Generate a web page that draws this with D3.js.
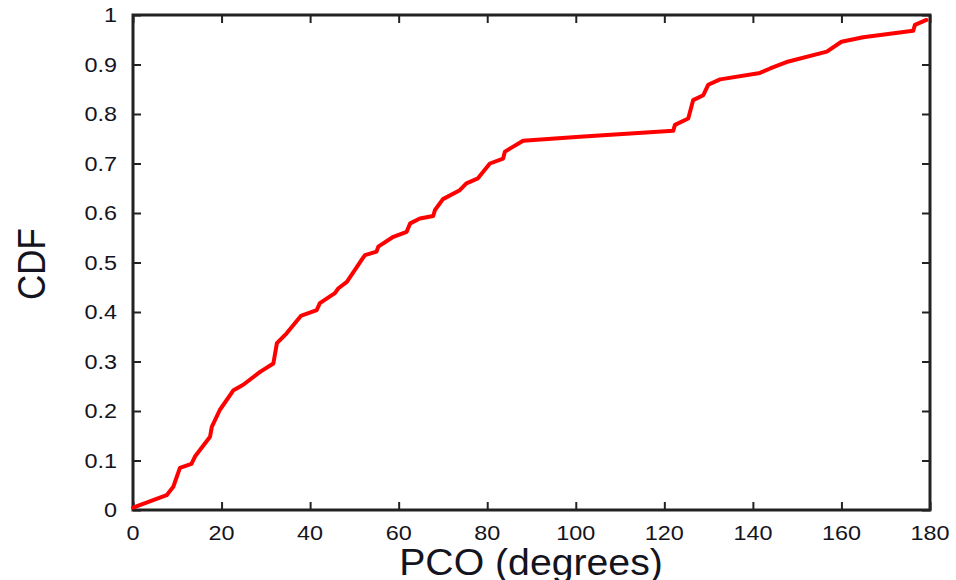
<!DOCTYPE html>
<html>
<head>
<meta charset="utf-8">
<script src="https://cdn.jsdelivr.net/npm/d3@7"></script>
<style>
html,body{margin:0;padding:0;background:#fff;}
svg{display:block;}
text{font-family:"Liberation Sans",Arial,Helvetica,sans-serif;fill:#141420;}
</style>
</head>
<body>
<svg id="chart" width="956" height="580"></svg>
<script>
const pco = [0, 7.6, 9.1, 10.6, 13.2, 14.0, 17.4, 17.8, 19.6, 22.7, 24.9, 28.7, 31.7, 32.5, 34.7, 37.9, 41.5, 42.2, 45.6, 46.4, 48.3, 51.6, 52.4, 55.0, 55.4, 58.8, 61.8, 62.6, 64.8, 67.8, 68.2, 70.0, 73.8, 75.3, 77.9, 80.6, 83.6, 84.0, 88.1, 100.9, 122.0, 122.4, 125.4, 126.5, 128.8, 129.9, 132.6, 141.6, 143.9, 147.6, 156.7, 160.0, 164.9, 176.2, 176.6, 179.2];
const cdf = [0.005, 0.03, 0.047, 0.085, 0.093, 0.108, 0.148, 0.168, 0.202, 0.242, 0.253, 0.279, 0.296, 0.337, 0.357, 0.392, 0.404, 0.418, 0.438, 0.448, 0.461, 0.505, 0.515, 0.522, 0.532, 0.552, 0.562, 0.579, 0.589, 0.594, 0.606, 0.628, 0.646, 0.660, 0.670, 0.700, 0.710, 0.724, 0.746, 0.754, 0.766, 0.778, 0.791, 0.828, 0.838, 0.859, 0.870, 0.883, 0.892, 0.905, 0.926, 0.946, 0.955, 0.968, 0.980, 0.990];
const xTicks = [0, 20, 40, 60, 80, 100, 120, 140, 160, 180];
const xTickLabels = ["0", "20", "40", "60", "80", "100", "120", "140", "160", "180"];
const yTicks = [0, 0.1, 0.2, 0.3, 0.4, 0.5, 0.6, 0.7, 0.8, 0.9, 1];
const yTickLabels = ["0", "0.1", "0.2", "0.3", "0.4", "0.5", "0.6", "0.7", "0.8", "0.9", "1"];
const xTitle = "PCO (degrees)";
const yTitle = "CDF";

const svg = d3.select("#chart");
const L = 133, R = 930, T = 15, B = 510;
const x = d3.scaleLinear().domain([0, 180]).range([L, R]);
const y = d3.scaleLinear().domain([0, 1]).range([B, T]);

const axisColor = "#222";
function styleAxis(g) {
  g.select(".domain").remove();
  g.selectAll(".tick line").attr("stroke", axisColor).attr("stroke-width", 2);
  g.selectAll(".tick text").remove();
}
svg.append("g").attr("transform", `translate(0,${B})`).call(d3.axisBottom(x).tickValues(xTicks).tickSize(-8)).call(styleAxis);
svg.append("g").attr("transform", `translate(0,${T})`).call(d3.axisTop(x).tickValues(xTicks).tickSize(-8)).call(styleAxis);
svg.append("g").attr("transform", `translate(${L},0)`).call(d3.axisLeft(y).tickValues(yTicks).tickSize(-8)).call(styleAxis);
svg.append("g").attr("transform", `translate(${R},0)`).call(d3.axisRight(y).tickValues(yTicks).tickSize(-8)).call(styleAxis);

// frame
svg.append("rect").attr("x", L).attr("y", T).attr("width", R - L).attr("height", B - T)
  .attr("fill", "none").attr("stroke", axisColor).attr("stroke-width", 3);

// tick labels
svg.append("g").selectAll("text").data(xTicks).join("text")
  .attr("transform", d => `translate(${x(d)},540) scale(1.2,1)`)
  .attr("text-anchor", "middle")
  .attr("font-size", 19.5)
  .text((d, i) => xTickLabels[i]);
svg.append("g").selectAll("text").data(yTicks).join("text")
  .attr("transform", d => `translate(117,${y(d) + 7}) scale(1.2,1)`)
  .attr("text-anchor", "end")
  .attr("font-size", 19.5)
  .text((d, i) => yTickLabels[i]);

// titles
svg.append("text").attr("transform", "translate(531,575) scale(1.06,1)")
  .attr("text-anchor", "middle").attr("font-size", 37).text(xTitle);
svg.append("text").attr("transform", "translate(45,264) rotate(-90) scale(0.92,1)")
  .attr("text-anchor", "middle").attr("font-size", 38).text(yTitle);

// line
const line = d3.line().x((d, i) => x(pco[i])).y((d, i) => y(cdf[i]));
svg.append("path").datum(cdf).attr("d", line)
  .attr("fill", "none").attr("stroke", "#ff0000").attr("stroke-width", 4)
  .attr("stroke-linejoin", "round").attr("stroke-linecap", "round");
</script>
</body>
</html>
